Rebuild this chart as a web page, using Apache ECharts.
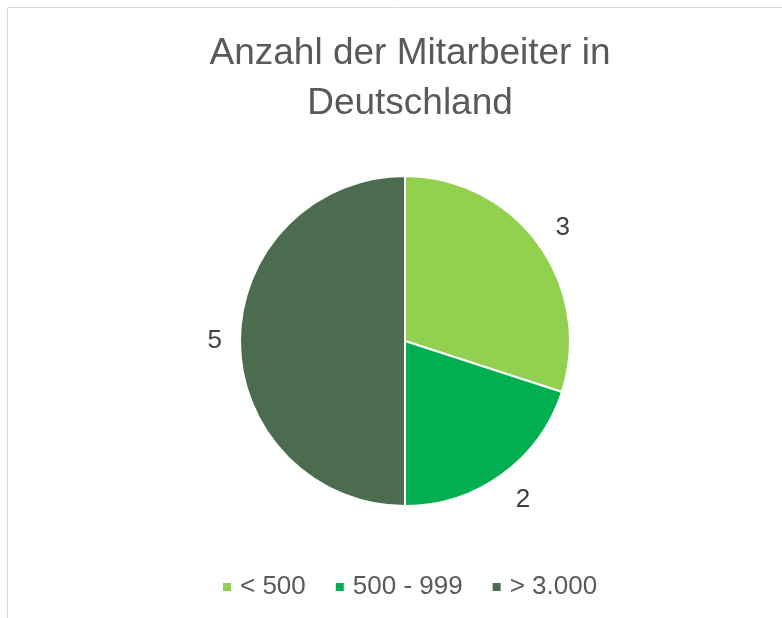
<!DOCTYPE html>
<html>
<head>
<meta charset="utf-8">
<script src="https://cdn.jsdelivr.net/npm/echarts@6/dist/echarts.min.js"></script>
<style>
  html, body { margin: 0; padding: 0; background: #fff; }
  #chart { width: 782px; height: 618px; }
</style>
</head>
<body>
<div id="chart"></div>
<script>
// Anzahl der Mitarbeiter in Deutschland
var categories = ['< 500', '500 - 999', '> 3.000']
var values = [3, 2, 5]
var colors = ['#92D050', '#00B050', '#4B6C4E']
// nudge labels like Excel's best-fit placement
var labelOffsets = [[0, -7], [0, 13], [2, 0]]

var myChart = echarts.init(document.getElementById('chart'))
myChart.setOption({
  animation: false,
  color: colors,
  title: {
    text: 'Anzahl der Mitarbeiter in\nDeutschland',
    left: 405,
    top: 24,
    textAlign: 'center',
    textStyle: {
      fontFamily: 'Liberation Sans, Arial',
      fontWeight: 'normal',
      fontSize: 37,
      lineHeight: 50,
      color: '#595959',
    },
  },
  legend: {
    top: 569,
    left: 216,
    itemWidth: 10,
    itemHeight: 10,
    itemGap: 28,
    icon: 'rect',
    textStyle: {
      fontFamily: 'Liberation Sans, Arial',
      fontSize: 26,
      color: '#595959',
      padding: [0, 0, 0, 3],
    },
    data: categories,
  },
  graphic: [
    {
      type: 'polyline',
      shape: { points: [[7.5, 618], [7.5, 7.5], [782, 7.5]] },
      style: { stroke: '#d9d9d9', lineWidth: 1, fill: null },
    },
  ],
  series: [
    {
      type: 'pie',
      center: [405, 341],
      radius: [0, 165],
      startAngle: 90,
      clockwise: true,
      itemStyle: {
        borderColor: '#fff',
        borderWidth: 2,
      },
      label: {
        show: true,
        position: 'outside',
        formatter: '{c}',
        fontFamily: 'Liberation Sans, Arial',
        fontSize: 26,
        color: '#404040',
      },
      labelLine: {
        show: false,
        length: 15,
        length2: 0,
      },
      emphasis: { disabled: true },
      data: categories.map(function (name, i) {
        return { name: name, value: values[i], label: { offset: labelOffsets[i] } }
      }),
    },
  ],
})
</script>
</body>
</html>
